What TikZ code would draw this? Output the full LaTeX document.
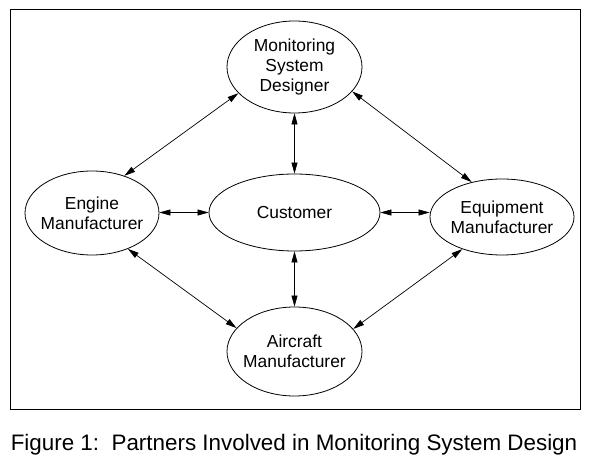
\documentclass[tikz,border=0pt]{standalone}
\usepackage{fontspec}
\setmainfont{Liberation Sans}
\usetikzlibrary{shapes.geometric,arrows.meta}
\begin{document}
\begin{tikzpicture}[x=1pt,y=-1pt,
  ell/.style={ellipse,draw,line width=0.8pt,inner sep=0pt},
  lbl/.style={font=\fontsize{17.4}{20}\selectfont,align=center},
  link/.style={line width=0.7pt,{Triangle[length=11pt,width=6pt]}-{Triangle[length=11pt,width=6pt]}}]
\useasboundingbox (0,0) rectangle (590,470);
\node[draw,line width=1pt,minimum width=570pt,minimum height=400pt,inner sep=0pt] (frame) at (295,210) {};
\node[ell,minimum width=135pt,minimum height=92pt,label={[lbl]center:{Monitoring\\System\\Designer}}] (mon) at (294.5,67) {};
\node[ell,minimum width=134pt,minimum height=84pt,label={[lbl]center:{Engine\\Manufacturer}}] (eng) at (92,213) {};
\node[ell,minimum width=171pt,minimum height=77pt,label={[lbl]center:{Customer}}] (cust) at (294.5,212.5) {};
\node[ell,minimum width=144pt,minimum height=76pt,label={[lbl]center:{Equipment\\Manufacturer}}] (equ) at (502,217) {};
\node[ell,minimum width=135pt,minimum height=89pt,label={[lbl]center:{Aircraft\\Manufacturer}}] (air) at (294.5,351.5) {};
\draw[link] (mon) -- (cust);
\draw[link] (cust) -- (air);
\draw[link] (eng.east |- cust.west) -- (cust.west);
\draw[link] (cust.east) -- (equ.west |- cust.east);
\draw[link] (mon.-155.5) -- (eng.49.5);
\draw[link] (mon.-23.6) -- (equ.131.6);
\draw[link] (eng.-45.8) -- (air.158.5);
\draw[link] (equ.219.5) -- (air.21.5);
\node[font=\fontsize{22.4}{26}\selectfont,anchor=base] (cap) at (294,451) {Figure 1:\ \ Partners Involved in Monitoring System Design};
\end{tikzpicture}
\end{document}
